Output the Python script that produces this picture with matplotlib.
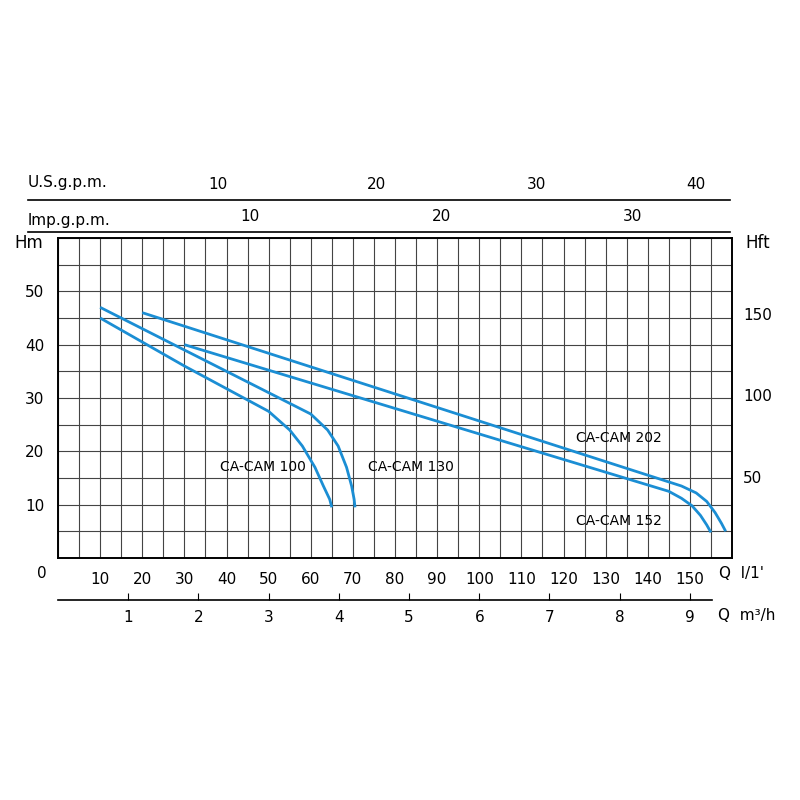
import numpy as np
import matplotlib.pyplot as plt

# curves: Q [l/min], H [m]
q100 = [10, 30, 50, 55, 58, 61, 63, 64.5, 65]
h100 = [45, 36, 27.5, 24, 21, 17, 13.5, 11, 9.5]
q130 = [10, 35, 60, 64, 66.5, 68.5, 69.7, 70.3, 70.5]
h130 = [47, 37, 27, 24, 21, 17, 13.5, 11, 9.5]
q152 = [30, 145, 148, 150.5, 152.5, 154, 155]
h152 = [40, 12.5, 11.2, 9.8, 8.0, 6.2, 4.8]
q202 = [20, 148, 151.5, 154, 156, 157.5, 158.5]
h202 = [46, 13.5, 12.2, 10.6, 8.5, 6.5, 5]
names = ["CA-CAM 100", "CA-CAM 130", "CA-CAM 152", "CA-CAM 202"]
label_pos = [(38.5, 17), (73.5, 17), (123, 7), (123, 22.5)]

lmin_ticks = list(range(10, 160, 10))
hm_ticks = [10, 20, 30, 40, 50]
hft_ticks = [50, 100, 150]
usg_ticks = [10, 20, 30, 40]
imp_ticks = [10, 20, 30]
m3h_ticks = [1, 2, 3, 4, 5, 6, 7, 8, 9]

blue = '#1b8ed4'
W = 800.0
fig = plt.figure(figsize=(8, 8), dpi=100)
ax = fig.add_axes([58 / W, 242 / W, 674 / W, 320 / W])
ax.set_xlim(0, 160)
ax.set_ylim(0, 60)
ax.set_xticks(np.arange(0, 161, 5), minor=True)
ax.set_yticks(np.arange(0, 61, 5), minor=True)
ax.set_xticks(lmin_ticks)
ax.set_yticks(hm_ticks)
ax.grid(True, which='both', color='#444444', lw=0.8)
ax.tick_params(which='both', length=0, labelsize=11, pad=10)
for s in ax.spines.values():
    s.set_linewidth(1.4)

for q, h in [(q100, h100), (q130, h130), (q152, h152), (q202, h202)]:
    ax.plot(q, h, color=blue, lw=2, solid_capstyle='butt')
for n, (x, y) in zip(names, label_pos):
    ax.text(x, y, n, fontsize=10, ha='left', va='center')

ax.text(-3.8, -3, "0", fontsize=11, ha='center', va='center', clip_on=False)
ax.text(157, -3, "Q  l/1'", fontsize=11, ha='left', va='center', clip_on=False)
ax.text(-7, 59, "Hm", fontsize=12, ha='center', va='center', clip_on=False)
ax.text(166, 59, "Hft", fontsize=12, ha='center', va='center', clip_on=False)

sec = ax.secondary_yaxis('right', functions=(lambda m: m / 0.3048, lambda f: f * 0.3048))
sec.set_yticks(hft_ticks)
sec.tick_params(length=0, labelsize=11, pad=8)
sec.spines['right'].set_visible(False)

def line_axis(y_px, x0_px, x1_px, per_unit_px, ticks, top, label, lx, lpx):
    a = fig.add_axes([x0_px / W, (800 - y_px) / W, (x1_px - x0_px) / W, 0.0001])
    a.set_xlim((x0_px - 58) / per_unit_px, (x1_px - 58) / per_unit_px)
    for k in ['top', 'left', 'right']:
        a.spines[k].set_visible(False)
    a.spines['bottom'].set_linewidth(1.2)
    a.set_yticks([])
    a.set_xticks(ticks)
    if top:
        a.xaxis.set_ticks_position('top')
        a.tick_params(direction='in', length=0, labelsize=11, pad=6)
    else:
        a.tick_params(direction='in', length=5, labelsize=11, pad=7)
    fig.text(lx / W, (800 - lpx) / W, label, fontsize=11, ha='left', va='center')

pxl = 674 / 160.0
line_axis(200, 28, 730, pxl * 3.785, usg_ticks, True, "U.S.g.p.m.", 28, 183)
line_axis(232, 28, 730, pxl * 4.546, imp_ticks, True, "lmp.g.p.m.", 28, 220)
line_axis(600, 58, 712, pxl * 1000 / 60, m3h_ticks, False, "", 0, 0)
fig.text(718 / W, (800 - 616) / W, "Q  m\u00b3/h", fontsize=11, ha='left', va='center')

fig.savefig("out.png", dpi=100)
